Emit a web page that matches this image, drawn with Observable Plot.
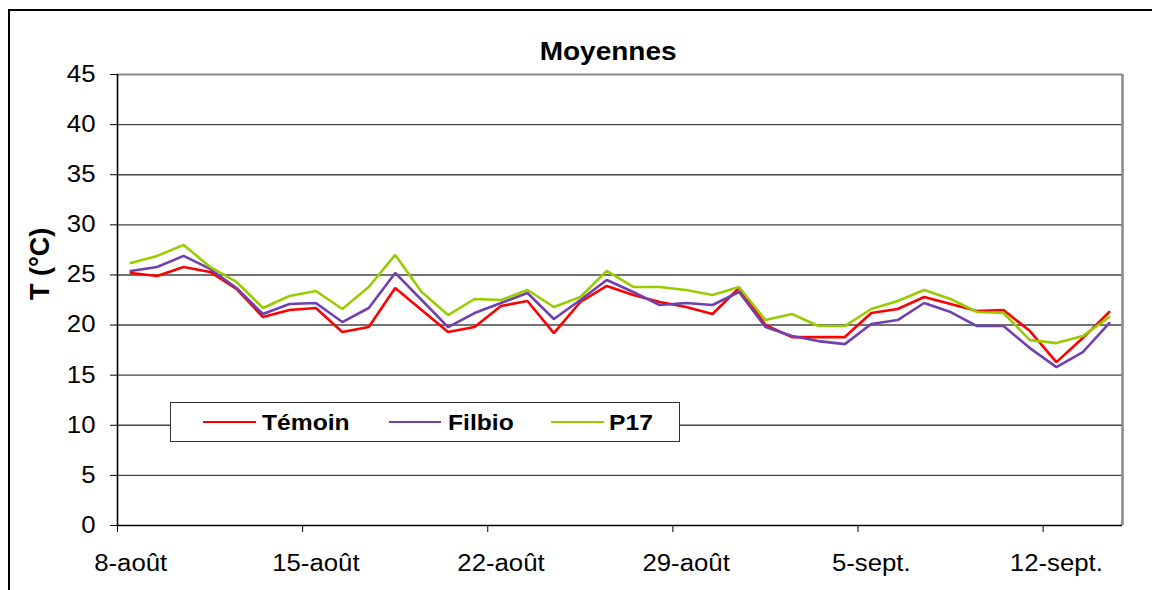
<!DOCTYPE html>
<html>
<head>
<meta charset="utf-8">
<script src="https://cdn.jsdelivr.net/npm/d3@7"></script>
<script src="https://cdn.jsdelivr.net/npm/@observablehq/plot@0.6"></script>
<style>
  body { margin: 0; background: #fff; }
  #wrap { position: relative; width: 1152px; height: 590px; overflow: hidden; font-family: "Liberation Sans", Arial, sans-serif; background: #fff; }
  #frame { position: absolute; left: 8px; top: 9px; width: 1300px; height: 800px; border-left: 2px solid #000; border-top: 2px solid #000; }
  #chart { position: absolute; left: 0; top: 0; }
  #title { position: absolute; left: 408px; width: 400px; top: 39px; text-align: center; font-weight: bold; font-size: 25px; line-height: 25px; color: #000; }
  #title span { display: inline-block; transform: scaleX(1.12); transform-origin: center; }
  #legend { position: absolute; left: 170px; top: 402px; width: 508px; height: 38px; border: 1.5px solid #333; background: #fff; }
  .lg-line { position: absolute; height: 2.5px; }
  .lg-text { position: absolute; font-weight: bold; font-size: 22px; line-height: 22px; color: #000; transform: scaleX(1.12); transform-origin: left; white-space: nowrap; }
</style>
</head>
<body>
<div id="wrap">
  <div id="frame"></div>
  <div id="chart"></div>
  <div id="title"><span>Moyennes</span></div>
  <div id="legend"></div>
</div>
<script>
// ---- Data ----
const days = [
  "2009-08-08","2009-08-09","2009-08-10","2009-08-11","2009-08-12","2009-08-13","2009-08-14",
  "2009-08-15","2009-08-16","2009-08-17","2009-08-18","2009-08-19","2009-08-20","2009-08-21",
  "2009-08-22","2009-08-23","2009-08-24","2009-08-25","2009-08-26","2009-08-27","2009-08-28",
  "2009-08-29","2009-08-30","2009-08-31","2009-09-01","2009-09-02","2009-09-03","2009-09-04",
  "2009-09-05","2009-09-06","2009-09-07","2009-09-08","2009-09-09","2009-09-10","2009-09-11",
  "2009-09-12","2009-09-13","2009-09-14"
];
const temoin = [25.2,24.9,25.8,25.3,23.6,20.8,21.5,21.7,19.3,19.8,23.7,21.5,19.3,19.8,21.9,22.4,19.2,22.3,23.9,23.0,22.3,21.8,21.1,23.7,20.0,18.8,18.8,18.8,21.2,21.6,22.8,22.1,21.4,21.5,19.4,16.3,18.7,21.3];
const filbio = [25.4,25.8,26.9,25.6,23.7,21.1,22.1,22.2,20.3,21.7,25.2,22.5,19.8,21.2,22.2,23.2,20.6,22.5,24.5,23.3,22.0,22.2,22.0,23.3,19.8,18.9,18.4,18.1,20.1,20.5,22.2,21.3,19.9,19.9,17.7,15.8,17.3,20.2];
const p17    = [26.2,26.9,28.0,25.8,24.3,21.7,22.9,23.4,21.6,23.8,27.0,23.3,21.0,22.6,22.5,23.5,21.8,22.8,25.4,23.8,23.8,23.5,23.0,23.8,20.5,21.1,19.9,19.9,21.6,22.4,23.5,22.6,21.3,21.2,18.5,18.2,18.9,20.8];

const seriesNames = ["Témoin", "Filbio", "P17"];
const seriesColors = ["#FF0000", "#7040B0", "#99CC00"];
const seriesValues = [temoin, filbio, p17];

const yTicks = [0, 5, 10, 15, 20, 25, 30, 35, 40, 45];
const xTickDays = ["2009-08-08","2009-08-15","2009-08-22","2009-08-29","2009-09-05","2009-09-12"];
const xTickLabels = ["8-août","15-août","22-août","29-août","5-sept.","12-sept."];
const xDomainDays = ["2009-08-08", "2009-09-15"];
const yLabel = "T (°C)";

// ---- Build ----
const noon = d => new Date(d + "T12:00:00Z");
const midnight = d => new Date(d + "T00:00:00Z");

const rows = [];
seriesNames.forEach((name, s) => {
  days.forEach((d, i) => rows.push({ date: noon(d), value: seriesValues[s][i], name }));
});

const xStart = midnight(xDomainDays[0]);
const xEnd = midnight(xDomainDays[1]);
const labelMap = new Map(xTickDays.map((d, i) => [+noon(d), xTickLabels[i]]));

const chart = Plot.plot({
  width: 1152,
  height: 590,
  marginLeft: 117,
  marginRight: 30,
  marginTop: 74,
  marginBottom: 65,
  style: { background: "transparent", fontFamily: "'Liberation Sans', Arial, sans-serif", fontSize: "23px", color: "#000" },
  x: { type: "utc", domain: [xStart, xEnd] },
  y: { domain: [0, 45] },
  color: { domain: seriesNames, range: seriesColors },
  marks: [
    Plot.ruleY(yTicks.filter(v => v > 0 && v < 45), { stroke: "#444", strokeWidth: 1.4 }),
    Plot.ruleY([45], { stroke: "#888", strokeWidth: 2 }),
    Plot.ruleX([xEnd], { stroke: "#888", strokeWidth: 2.5 }),
    Plot.lineY(rows, { x: "date", y: "value", z: "name", stroke: "name", strokeWidth: 2.6, strokeLinejoin: "miter" }),
    Plot.ruleY([0], { stroke: "#000", strokeWidth: 1.6 }),
    Plot.ruleX([xStart], { stroke: "#000", strokeWidth: 1.6 }),
    Plot.axisY({ ticks: yTicks, tickSize: 7, tickPadding: 15, label: null, stroke: "#000" }),
    Plot.axisX({ ticks: xTickDays.map(midnight), tickSize: 7, tickFormat: () => "", label: null, stroke: "#000" }),
    Plot.axisX({ ticks: xTickDays.map(noon), tickSize: 0, tickPadding: 29, tickFormat: d => labelMap.get(+d), label: null }),
    Plot.text([yLabel], { text: d => d, frameAnchor: "left", dx: -77, rotate: -90, fontWeight: "bold", fontSize: 27 })
  ]
});
document.getElementById("chart").appendChild(chart);

// horizontal stretch of horizontal texts to match the reference aspect
chart.querySelectorAll("text").forEach(t => {
  if (!t.textContent || t.textContent === yLabel) return;
  const L = t.getComputedTextLength();
  if (L > 0) {
    t.setAttribute("textLength", L * 1.12);
    t.setAttribute("lengthAdjust", "spacingAndGlyphs");
  }
});

// ---- Legend ----
const legend = d3.select("#legend");
const itemX = [[32, 85, 91], [218, 270, 277], [380, 433, 438]];
seriesNames.forEach((name, i) => {
  const [x0, x1, tx] = itemX[i];
  legend.append("div").attr("class", "lg-line")
    .style("left", x0 + "px").style("width", (x1 - x0) + "px").style("top", "17.5px")
    .style("background", seriesColors[i]);
  legend.append("div").attr("class", "lg-text")
    .style("left", tx + "px").style("top", "9px").text(name);
});
</script>
</body>
</html>
